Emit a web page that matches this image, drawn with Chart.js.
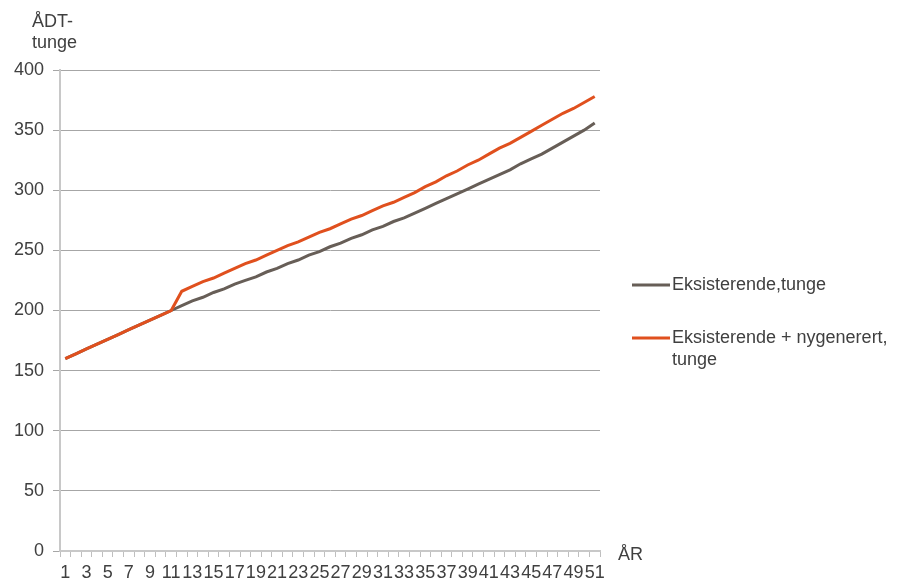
<!DOCTYPE html>
<html>
<head>
<meta charset="utf-8">
<script src="https://cdn.jsdelivr.net/npm/chart.js@4"></script>
<style>
  body { margin: 0; background: #fff; }
</style>
</head>
<body>
<canvas id="trafficChart" width="907" height="585"></canvas>
<script>
var years = [];
for (var y = 1; y <= 51; y++) years.push(String(y));

var seriesNames = ['Eksisterende,tunge', 'Eksisterende + nygenerert,\ntunge'];
var seriesColors = ['#675e57', '#e0501e'];

var existing = [160, 164, 168, 172, 176, 180, 184, 188, 192, 196,
    200, 204, 208, 211, 215, 218, 222, 225, 228, 232,
    235, 239, 242, 246, 249, 253, 256, 260, 263, 267,
    270, 274, 277, 281, 285, 289, 293, 297, 301, 305,
    309, 313, 317, 322, 326, 330, 335, 340, 345, 350, 356];

var withNew = [160, 164, 168, 172, 176, 180, 184, 188, 192, 196,
    200, 216, 220, 224, 227, 231, 235, 239, 242, 246,
    250, 254, 257, 261, 265, 268, 272, 276, 279, 283,
    287, 290, 294, 298, 303, 307, 312, 316, 321, 325,
    330, 335, 339, 344, 349, 354, 359, 364, 368, 373, 378];

var yTitle = ['ÅDT-', 'tunge'];
var xTitle = 'ÅR';

var fontFamily = "'Liberation Sans', Arial, sans-serif";
var textColor = '#404040';

var extraText = {
    id: 'extraText',
    afterDraw: function(chart) {
        var ctx = chart.ctx;
        ctx.save();
        ctx.font = '18px ' + fontFamily;
        ctx.fillStyle = textColor;
        ctx.textAlign = 'left';
        ctx.textBaseline = 'alphabetic';
        // axis titles
        ctx.fillText(yTitle[0], 32, 27);
        ctx.fillText(yTitle[1], 32, 48);
        ctx.fillText(xTitle, 618, 560);

        // legend
        var legendY = [285, 338];
        chart.data.datasets.forEach(function(ds, i) {
            var cy = legendY[i];
            ctx.strokeStyle = ds.borderColor;
            ctx.lineWidth = 3;
            ctx.beginPath();
            ctx.moveTo(632, cy);
            ctx.lineTo(670, cy);
            ctx.stroke();
            ctx.fillStyle = textColor;
            ctx.textBaseline = 'middle';
            ds.label.split('\n').forEach(function(line, j) {
                ctx.fillText(line, 672, cy + j * 22);
            });
        });
        ctx.restore();
    }
};

var ctx = document.getElementById('trafficChart').getContext('2d');
var trafficChart = new Chart(ctx, {
    type: 'line',
    data: {
        labels: years,
        datasets: [{
            label: seriesNames[0],
            data: existing,
            borderColor: seriesColors[0],
            backgroundColor: seriesColors[0],
            borderWidth: 3,
            pointRadius: 0,
            tension: 0,
            order: 2
        }, {
            label: seriesNames[1],
            data: withNew,
            borderColor: seriesColors[1],
            backgroundColor: seriesColors[1],
            borderWidth: 3,
            pointRadius: 0,
            tension: 0,
            order: 1
        }]
    },
    options: {
        responsive: false,
        animation: false,
        devicePixelRatio: 1,
        layout: {
            padding: { top: 70, right: 307, left: 0, bottom: 0 }
        },
        plugins: {
            legend: { display: false },
            tooltip: { enabled: false }
        },
        scales: {
            x: {
                offset: true,
                grid: {
                    offset: true,
                    drawOnChartArea: false,
                    drawTicks: true,
                    tickLength: 6,
                    color: '#bfbfbf'
                },
                border: { color: '#c8c8c8', width: 2 },
                ticks: {
                    autoSkip: false,
                    maxRotation: 0,
                    minRotation: 0,
                    padding: 5,
                    color: textColor,
                    font: { family: fontFamily, size: 18 },
                    callback: function(value, index) {
                        return index % 2 === 0 ? years[index] : '';
                    }
                },
                afterFit: function(scale) { scale.height = 34; }
            },
            y: {
                min: 0,
                max: 400,
                grid: { color: '#a6a6a6', tickLength: 7 },
                border: { color: '#c8c8c8', width: 2 },
                ticks: {
                    stepSize: 50,
                    padding: 9,
                    color: textColor,
                    font: { family: fontFamily, size: 18 }
                },
                afterFit: function(scale) { scale.width = 60; }
            }
        }
    },
    plugins: [extraText]
});
</script>
</body>
</html>
